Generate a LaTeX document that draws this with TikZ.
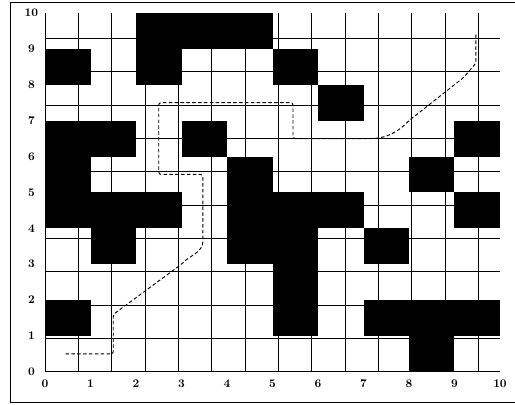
\documentclass[tikz,border=0pt]{standalone}
\tikzset{
	cell/.style={fill=black},
	route/.style={densely dashed, line width=0.8pt, rounded corners=2pt},
	tick/.style={font=\bfseries, inner sep=1pt}
}
\begin{document}
\begin{tikzpicture}[x=1.365cm, y=1.077cm]
		\useasboundingbox (-0.99,-0.92) rectangle (10.33,10.36);
		\draw[thick] (10.5,10.28) -- (-0.75,10.28) -- (-0.75,-0.84) -- (10.5,-0.84);

		% blocked cells
		\foreach \c/\r in {2/9,3/9,4/9, 0/8,2/8,5/8, 6/7, 0/6,1/6,3/6,9/6, 0/5,4/5,8/5,
			0/4,1/4,2/4,4/4,5/4,6/4,9/4, 1/3,4/3,5/3,7/3, 5/2, 0/1,5/1,7/1,8/1,9/1, 8/0}
			\fill[cell] (\c,\r) rectangle ++(1,1);
		\draw[line width=0.8pt] (0,0) grid (10,10);

		\foreach \i in {0,...,10} {
			\node[tick] (x\i) at (\i,-0.34) {\i};
			\node[tick] (y\i) at (-0.3,\i) {\i};
		}

		\coordinate (start) at (0.45,0.5);
		\coordinate (goal) at (9.47,9.45);
		\draw[route] (start) -- (1.5,0.5) -- (1.5,1.6) -- (3,3) to[out=45,in=-90] (3.47,3.7)
			-- (3.47,5.5) -- (2.5,5.5) -- (2.5,7.5) -- (5.45,7.5) -- (5.45,6.5) -- (7.1,6.5)
			to[out=0,in=225] (8,7) -- (9.2,8.2) -- (9.47,8.6) -- (goal);
	\end{tikzpicture}
\end{document}
